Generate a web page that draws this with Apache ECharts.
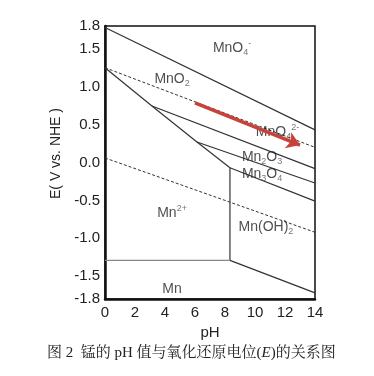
<!DOCTYPE html>
<html>
<head>
<meta charset="utf-8">
<script src="https://cdn.jsdelivr.net/npm/echarts@6/dist/echarts.min.js"></script>
<style>
html,body{margin:0;padding:0;background:#fff;}
#chart{width:374px;height:376px;}
</style>
</head>
<body>
<div id="chart"></div>
<script>
// ---- data (pH, E in V vs. NHE) ----
const yTickLabels = [1.8, 1.5, 1.0, 0.5, 0.0, -0.5, -1.0, -1.5, -1.8];
const xRange = [0, 14];
const yRange = [-1.8, 1.8];

// solid boundaries
const mno4_mno2   = [[0, 1.78], [14, 0.43]];
const mno2_mn2    = [[0, 1.25], [3.13, 0.745]];
const mno2_mn2o3  = [[3.13, 0.745], [14, -0.08]];
const mn2o3_mn2   = [[3.13, 0.745], [6.13, 0.27]];
const mn2o3_mn3o4 = [[6.13, 0.27], [14, -0.27]];
const mn3o4_mn2   = [[6.13, 0.27], [8.33, -0.07]];
const mn3o4_mnoh2 = [[8.33, -0.07], [14, -0.51]];
const mnoh2_mn2   = [[8.33, -0.07], [8.33, -1.29]];
const mnoh2_mn    = [[8.33, -1.29], [14, -1.72]];
// grey boundary
const mn2_mn      = [[0, -1.29], [8.33, -1.29]];
// water stability (dashed)
const o2_h2o      = [[0, 1.25], [14, 0.20]];
const h2o_h2      = [[0, 0.06], [14, -0.92]];

// region labels [pH, E, rich text]
const regionLabels = [
  [8.47, 1.51, '{m|MnO}{sb|4}{sp|-}'],
  [4.47, 1.10, '{m|MnO}{sb|2}'],
  [11.5, 0.40, '{m|MnO}{sb|4}{sp|2-}'],
  [10.47, 0.07, '{m|Mn}{sb|2}{m|O}{sb|3}'],
  [10.47, -0.15, '{m|Mn}{sb|3}{m|O}{sb|4}'],
  [4.47, -0.67, '{m|Mn}{sp|2+}'],
  [10.73, -0.85, '{m|Mn(OH)}{sb|2}'],
  [4.47, -1.67, '{m|Mn}']
];

// red arrow [start, end]
const arrow = [[6.0, 0.785], [13.0, 0.23]];

const FONT = '"Liberation Sans", Arial, sans-serif';

function solid(d) {
  return {type: 'line', data: d, symbol: 'none', silent: true, z: 3,
    lineStyle: {color: '#333', width: 1.2}};
}
function dashed(d) {
  return {type: 'line', data: d, symbol: 'none', silent: true, z: 3,
    lineStyle: {color: '#333', width: 1, type: [3, 2]}};
}

const chart = echarts.init(document.getElementById('chart'));
chart.setOption({
  animation: false,
  backgroundColor: '#fff',
  grid: {left: 105, right: 59, top: 26, bottom: 77, show: true,
    borderColor: '#111', borderWidth: 1.5, backgroundColor: 'transparent'},
  xAxis: {
    type: 'value', min: xRange[0], max: xRange[1], interval: 2,
    name: 'pH', nameLocation: 'middle', nameGap: 25,
    nameTextStyle: {fontFamily: FONT, fontSize: 15, color: '#222'},
    axisLine: {show: true, onZero: false, lineStyle: {color: '#111', width: 2.5}},
    axisTick: {show: false},
    splitLine: {show: false},
    axisLabel: {fontFamily: FONT, fontSize: 15, color: '#222', margin: 6}
  },
  yAxis: {
    type: 'value', min: yRange[0], max: yRange[1], interval: 0.1,
    name: 'E( V vs. NHE )', nameLocation: 'middle', nameGap: 38,
    nameTextStyle: {fontFamily: FONT, fontSize: 14, color: '#222', padding: [0, 0, 0, 18]},
    axisLine: {show: true, onZero: false, lineStyle: {color: '#111', width: 2.5}},
    axisTick: {show: false},
    splitLine: {show: false},
    axisLabel: {
      fontFamily: FONT, fontSize: 15, color: '#222', margin: 5,
      formatter: function (v) {
        for (const t of yTickLabels) {
          if (Math.abs(v - t) < 1e-6) return t.toFixed(1);
        }
        return '';
      }
    }
  },
  graphic: [{
    type: 'text', left: 47, top: 346,
    style: {
      text: '{a|图 2  锰的 pH 值与氧化还原电位(}{i|E}{a|)的关系图}',
      rich: {
        a: {fontFamily: '"Liberation Serif", "Noto Serif CJK SC", "Noto Sans CJK SC", serif', fontSize: 15, fill: '#222'},
        i: {fontFamily: '"Liberation Serif", serif', fontStyle: 'italic', fontSize: 15, fill: '#222'}
      }
    }
  }],
  series: [
    solid(mno4_mno2), solid(mno2_mn2), solid(mno2_mn2o3), solid(mn2o3_mn2),
    solid(mn2o3_mn3o4), solid(mn3o4_mn2), solid(mn3o4_mnoh2), solid(mnoh2_mn2),
    solid(mnoh2_mn),
    {type: 'line', data: mn2_mn, symbol: 'none', silent: true, z: 3,
      lineStyle: {color: '#888', width: 1.2}},
    dashed(o2_h2o), dashed(h2o_h2),
    {
      type: 'scatter', symbolSize: 0, silent: true, z: 4,
      data: regionLabels.map(r => ({value: [r[0], r[1]], name: r[2]})),
      label: {
        show: true, position: 'inside',
        formatter: p => p.name,
        rich: {
          m: {fontFamily: FONT, fontSize: 14, color: '#222', lineHeight: 18},
          sb: {fontFamily: FONT, fontSize: 9, color: '#555', lineHeight: 8, verticalAlign: 'bottom'},
          sp: {fontFamily: FONT, fontSize: 9, color: '#555', lineHeight: 8, verticalAlign: 'top'}
        }
      }
    },
    {
      type: 'lines', coordinateSystem: 'cartesian2d', silent: true, z: 6,
      symbol: ['none', 'arrow'], symbolSize: 13,
      lineStyle: {color: '#c8423a', width: 3.5, opacity: 1},
      data: [{coords: arrow}]
    }
  ]
});
</script>
</body>
</html>
